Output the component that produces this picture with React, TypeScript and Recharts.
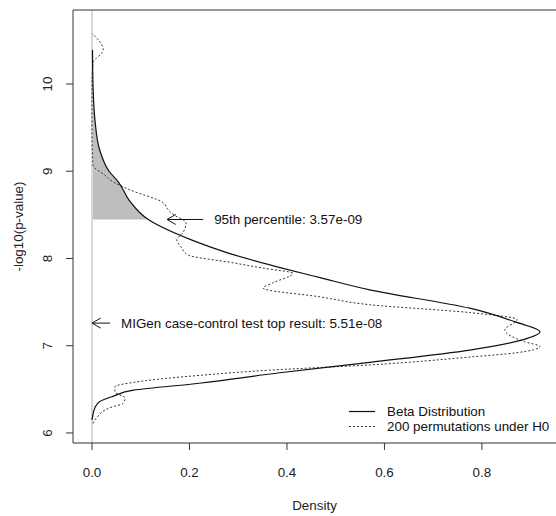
import React from 'react';
import { ComposedChart, Line, Area, XAxis, YAxis, ReferenceLine } from 'recharts';

// density curves, listed bottom to top: y = -log10(p), x = density
const betaCurve = [
  { y: 6.15, x: 0.0 },
  { y: 6.18, x: 0.001 },
  { y: 6.29, x: 0.006 },
  { y: 6.36, x: 0.016 },
  { y: 6.42, x: 0.043 },
  { y: 6.49, x: 0.085 },
  { y: 6.57, x: 0.22 },
  { y: 6.69, x: 0.385 },
  { y: 6.81, x: 0.57 },
  { y: 6.95, x: 0.775 },
  { y: 7.07, x: 0.885 },
  { y: 7.16, x: 0.919 },
  { y: 7.27, x: 0.87 },
  { y: 7.43, x: 0.775 },
  { y: 7.64, x: 0.57 },
  { y: 7.78, x: 0.468 },
  { y: 7.89, x: 0.39 },
  { y: 8.07, x: 0.275 },
  { y: 8.21, x: 0.205 },
  { y: 8.44, x: 0.117 },
  { y: 8.67, x: 0.076 },
  { y: 8.87, x: 0.055 },
  { y: 9.0, x: 0.035 },
  { y: 9.24, x: 0.016 },
  { y: 9.59, x: 0.006 },
  { y: 10.0, x: 0.002 },
  { y: 10.39, x: 0.001 },
];

const permCurve = [
  { y: 6.11, x: 0.002 },
  { y: 6.18, x: 0.01 },
  { y: 6.29, x: 0.037 },
  { y: 6.34, x: 0.064 },
  { y: 6.4, x: 0.068 },
  { y: 6.47, x: 0.047 },
  { y: 6.53, x: 0.047 },
  { y: 6.58, x: 0.085 },
  { y: 6.66, x: 0.22 },
  { y: 6.72, x: 0.365 },
  { y: 6.78, x: 0.57 },
  { y: 6.87, x: 0.775 },
  { y: 6.92, x: 0.872 },
  { y: 6.99, x: 0.919 },
  { y: 7.05, x: 0.885 },
  { y: 7.18, x: 0.847 },
  { y: 7.3, x: 0.872 },
  { y: 7.38, x: 0.775 },
  { y: 7.47, x: 0.57 },
  { y: 7.56, x: 0.468 },
  { y: 7.66, x: 0.351 },
  { y: 7.72, x: 0.371 },
  { y: 7.83, x: 0.412 },
  { y: 7.89, x: 0.35 },
  { y: 7.95, x: 0.29 },
  { y: 8.04, x: 0.197 },
  { y: 8.13, x: 0.183 },
  { y: 8.21, x: 0.174 },
  { y: 8.3, x: 0.187 },
  { y: 8.41, x: 0.193 },
  { y: 8.5, x: 0.168 },
  { y: 8.56, x: 0.156 },
  { y: 8.64, x: 0.146 },
  { y: 8.79, x: 0.076 },
  { y: 8.88, x: 0.043 },
  { y: 8.96, x: 0.025 },
  { y: 9.07, x: 0.002 },
  { y: 9.5, x: 0.0 },
  { y: 10.0, x: 0.0 },
  { y: 10.24, x: 0.002 },
  { y: 10.39, x: 0.023 },
  { y: 10.58, x: 0.0 },
];

const xTicks = [0, 0.2, 0.4, 0.6, 0.8];
const yTicks = [6, 7, 8, 9, 10];

const percentile95 = 8.447; // -log10(3.57e-09)
const topResult = 7.259; // -log10(5.51e-08)

const X_DOMAIN = [-0.039, 0.952];
const Y_DOMAIN = [5.885, 10.848];

// shaded tail above the 95th percentile, under the beta curve
const shaded = [{ y: percentile95, x: 0.116 }, ...betaCurve.filter((d) => d.y > percentile95)];

const FONT = '"Liberation Sans", Arial, Helvetica, sans-serif';
const FS = 13.4;
const AXIS = '#333';

const arrowShape = (label: string) => (props: any) => {
  const { x1, y1, x2, y2 } = props;
  const a = Math.atan2(y2 - y1, x2 - x1);
  const len = 10;
  const s = Math.PI / 6;
  const bx1 = x2 - len * Math.cos(a - s);
  const by1 = y2 - len * Math.sin(a - s);
  const bx2 = x2 - len * Math.cos(a + s);
  const by2 = y2 - len * Math.sin(a + s);
  return (
    <g>
      <line x1={x1} y1={y1} x2={x2} y2={y2} stroke="#111" strokeWidth={1} />
      <path d={`M${bx1},${by1}L${x2},${y2}L${bx2},${by2}`} fill="none" stroke="#111" strokeWidth={1} />
      <text x={x1 + 11} y={y1} dominantBaseline="central" fontFamily={FONT} fontSize={FS} fill="#111">
        {label}
      </text>
    </g>
  );
};

const XTick = ({ x, y, payload }: any) => (
  <text x={x} y={y + 20} textAnchor="middle" dominantBaseline="central" fontFamily={FONT} fontSize={FS} fill="#222">
    {payload.value.toFixed(1)}
  </text>
);

const YTick = ({ x, y, payload }: any) => (
  <text
    x={x - 16}
    y={y}
    textAnchor="middle"
    dominantBaseline="central"
    transform={`rotate(-90, ${x - 16}, ${y})`}
    fontFamily={FONT}
    fontSize={FS}
    fill="#222"
  >
    {payload.value}
  </text>
);

export default function App() {
  return (
    <div style={{ position: 'absolute', left: 0, top: 0, width: 556, height: 516, background: '#fff' }}>
      <ComposedChart width={556} height={516} layout="vertical" margin={{ top: 10, right: 0, bottom: 0, left: 0 }}>
        <XAxis
          type="number"
          dataKey="x"
          domain={X_DOMAIN}
          allowDataOverflow
          ticks={xTicks}
          tick={<XTick />}
          tickSize={7}
          height={73}
          stroke={AXIS}
          label={{ value: 'Density', position: 'insideBottom', offset: 6, fontFamily: FONT, fontSize: FS, fill: '#222' }}
        />
        <YAxis
          type="number"
          dataKey="y"
          domain={Y_DOMAIN}
          reversed
          allowDataOverflow
          ticks={yTicks}
          tick={<YTick />}
          tickSize={7}
          width={73}
          stroke={AXIS}
          label={{
            value: '-log10(p-value)',
            angle: -90,
            position: 'insideLeft',
            offset: 18,
            style: { textAnchor: 'middle' },
            fontFamily: FONT,
            fontSize: FS,
            fill: '#222',
          }}
        />
        <Area
          data={shaded}
          dataKey="x"
          type="monotoneY"
          baseValue={0}
          fill="#bebebe"
          fillOpacity={1}
          stroke="none"
          isAnimationActive={false}
        />
        <ReferenceLine x={0} stroke="#d8d8d8" strokeWidth={2} />
        <ReferenceLine y={Y_DOMAIN[1]} stroke={AXIS} strokeWidth={1} />
        <Line
          data={permCurve}
          dataKey="x"
          type="monotoneY"
          stroke="#333"
          strokeWidth={1}
          strokeDasharray="2 2"
          dot={false}
          isAnimationActive={false}
        />
        <Line
          data={betaCurve}
          dataKey="x"
          type="monotoneY"
          stroke="#111"
          strokeWidth={1.2}
          dot={false}
          isAnimationActive={false}
        />
        <ReferenceLine
          segment={[{ x: 0.228, y: percentile95 }, { x: 0.154, y: percentile95 }]}
          shape={arrowShape('95th percentile: 3.57e-09')}
        />
        <ReferenceLine
          segment={[{ x: 0.037, y: topResult }, { x: 0.0, y: topResult }]}
          shape={arrowShape('MIGen case-control test top result: 5.51e-08')}
        />
      </ComposedChart>
      <div style={{ position: 'absolute', left: 349, top: 404, fontFamily: FONT, fontSize: FS, color: '#111', lineHeight: '15px' }}>
        <div style={{ display: 'flex', alignItems: 'center', height: 15 }}>
          <svg width={26} height={15}>
            <line x1={0} y1={7.5} x2={26} y2={7.5} stroke="#111" strokeWidth={1.2} />
          </svg>
          <span style={{ marginLeft: 12 }}>Beta Distribution</span>
        </div>
        <div style={{ display: 'flex', alignItems: 'center', height: 15 }}>
          <svg width={26} height={15}>
            <line x1={0} y1={7.5} x2={26} y2={7.5} stroke="#333" strokeWidth={1} strokeDasharray="2 2" />
          </svg>
          <span style={{ marginLeft: 12 }}>200 permutations under H0</span>
        </div>
      </div>
    </div>
  );
}
